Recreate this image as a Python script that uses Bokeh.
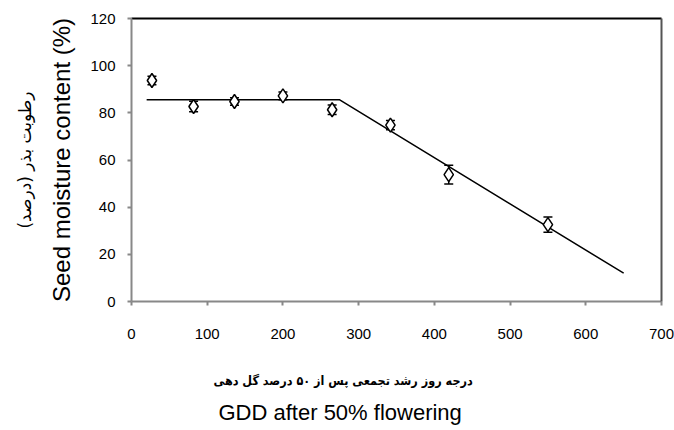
from bokeh.plotting import figure
from bokeh.models import (ColumnDataSource, Whisker, LinearAxis, FixedTicker,
                          Range1d, Title, TeeHead)
from bokeh.embed import file_html
from bokeh.resources import INLINE

# ---- data ----
gdd = [27, 82, 136, 200, 265, 342, 419, 550]
moisture = [93.7, 82.7, 84.8, 87.2, 81.3, 74.8, 53.8, 32.6]
err = [1.8, 2.2, 1.6, 1.6, 2.0, 2.0, 4.0, 3.2]

fit_x = [20, 275, 650]
fit_y = [85.5, 85.5, 12.0]

x_ticks = [0, 100, 200, 300, 400, 500, 600, 700]
y_ticks = [0, 20, 40, 60, 80, 100, 120]

x_label_fa = "درجه روز رشد تجمعی پس از ۵۰ درصد گل دهی"
x_label_en = "GDD after 50% flowering"
y_label_fa = "رطوبت بذر (درصد)"
y_label_en = "Seed moisture content (%)"

src = ColumnDataSource(dict(
    x=gdd, y=moisture,
    lo=[m - e for m, e in zip(moisture, err)],
    hi=[m + e for m, e in zip(moisture, err)],
))

p = figure(frame_width=530, frame_height=283,
           x_range=Range1d(0, 700), y_range=Range1d(0, 120),
           output_backend="svg", toolbar_location=None,
           x_axis_location=None, y_axis_location=None,
           min_border_left=131, min_border_right=13,
           min_border_top=18, min_border_bottom=128)
p.outline_line_color = None
p.xgrid.visible = False
p.ygrid.visible = False
p.background_fill_color = "white"

# bottom axis
xa = LinearAxis(ticker=FixedTicker(ticks=x_ticks))
xa.axis_line_color = "#888888"
xa.axis_line_width = 2
xa.major_tick_line_color = "#888888"
xa.major_tick_line_width = 2
xa.major_tick_in = 0
xa.major_tick_out = 4
xa.minor_tick_line_color = None
xa.major_label_standoff = 23
xa.major_label_text_font = "Liberation Sans Narrow, Liberation Sans"
xa.major_label_text_font_size = "15px"
xa.major_label_text_color = "black"
xa.axis_label = " "
xa.axis_label_text_font_size = "1px"
xa.axis_label_standoff = 17
p.add_layout(xa, "below")
p.add_layout(Title(text=x_label_fa, align="left", text_font_style="bold",
                   text_font="DejaVu Sans Condensed, DejaVu Sans",
                   text_font_size="12.5px",
                   text_color="black", offset=82, standoff=16), "below")
p.add_layout(Title(text=x_label_en, align="left", text_font_style="normal",
                   text_font="Liberation Sans", text_font_size="22px",
                   text_color="black", offset=87, standoff=4), "below")

# left axis
ya = LinearAxis(ticker=FixedTicker(ticks=y_ticks))
ya.axis_line_color = "#888888"
ya.axis_line_width = 2
ya.major_tick_line_color = "#888888"
ya.major_tick_line_width = 2
ya.major_tick_in = 0
ya.major_tick_out = 4
ya.minor_tick_line_color = None
ya.major_label_standoff = 12
ya.major_label_text_font = "Liberation Sans"
ya.major_label_text_font_size = "15px"
ya.major_label_text_color = "black"
ya.axis_label = y_label_en
ya.axis_label_text_font = "Liberation Sans"
ya.axis_label_text_font_style = "normal"
ya.axis_label_text_font_size = "24px"
ya.axis_label_text_color = "black"
ya.axis_label_standoff = 12
p.add_layout(ya, "left")
p.add_layout(Title(text=y_label_fa, align="center", text_font_style="normal",
                   text_font="DejaVu Sans", text_font_size="17px",
                   text_color="black", standoff=22), "left")

# top and right frame lines
ta = LinearAxis(ticker=FixedTicker(ticks=[]))
ta.axis_line_color = "black"
ta.axis_line_width = 2
ta.major_label_text_font_size = "0px"
p.add_layout(ta, "above")
ra = LinearAxis(ticker=FixedTicker(ticks=[]))
ra.axis_line_color = "#555555"
ra.axis_line_width = 2
ra.major_label_text_font_size = "0px"
p.add_layout(ra, "right")

# fitted segmented line
p.line(fit_x, fit_y, line_color="black", line_width=1.5)

# data points
p.scatter("x", "y", source=src, marker="diamond", size=14,
          fill_color="white", line_color="black", line_width=1.5)
w = Whisker(base="x", lower="lo", upper="hi", source=src,
            line_color="black", line_width=1.5,
            upper_head=TeeHead(size=9, line_color="black", line_width=1.5),
            lower_head=TeeHead(size=9, line_color="black", line_width=1.5))
p.add_layout(w)

open("out.html", "w").write(file_html(p, INLINE))
